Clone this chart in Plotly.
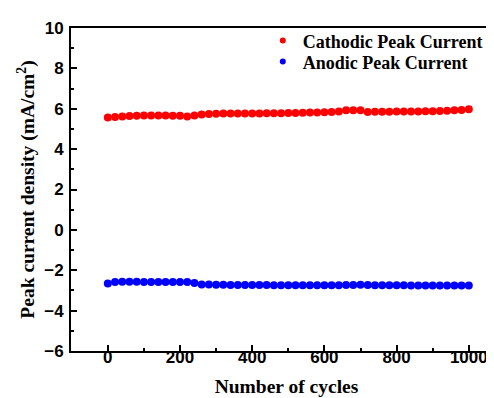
import plotly.graph_objects as go

cycles = [0, 20, 40, 60, 80, 100, 120, 140, 160, 180, 200, 220, 240, 260, 280, 300, 320, 340, 360, 380,
          400, 420, 440, 460, 480, 500, 520, 540, 560, 580, 600, 620, 640, 660, 680, 700, 720, 740, 760, 780,
          800, 820, 840, 860, 880, 900, 920, 940, 960, 980, 1000]
cathodic = [5.57, 5.59, 5.62, 5.64, 5.65, 5.66, 5.66, 5.66, 5.66, 5.65, 5.65, 5.62, 5.66, 5.72, 5.74, 5.75,
            5.76, 5.76, 5.76, 5.77, 5.77, 5.77, 5.78, 5.78, 5.78, 5.79, 5.79, 5.80, 5.81, 5.82, 5.83, 5.84,
            5.86, 5.92, 5.93, 5.92, 5.84, 5.85, 5.85, 5.85, 5.86, 5.86, 5.86, 5.86, 5.87, 5.88, 5.89, 5.90,
            5.92, 5.94, 5.97]
anodic = [-2.66, -2.58, -2.57, -2.57, -2.57, -2.58, -2.58, -2.58, -2.58, -2.58, -2.58, -2.58, -2.63, -2.70,
          -2.71, -2.72, -2.72, -2.73, -2.73, -2.73, -2.73, -2.73, -2.73, -2.74, -2.74, -2.74, -2.74, -2.74,
          -2.74, -2.74, -2.74, -2.74, -2.74, -2.73, -2.73, -2.72, -2.73, -2.74, -2.74, -2.74, -2.74, -2.74,
          -2.75, -2.75, -2.75, -2.75, -2.75, -2.75, -2.76, -2.76, -2.76]
series_names = ["Cathodic Peak Current", "Anodic Peak Current"]
series_colors = ["#ff0000", "#0000ff"]

serif = dict(family="Liberation Serif, Times New Roman, serif", size=19.5, color="black", weight="bold")
sans = dict(family="Liberation Sans, Arial, sans-serif", size=17, color="black", weight="bold")
legfont = dict(family="Liberation Serif, Times New Roman, serif", size=18, color="black", weight="bold")

fig = go.Figure()
for vals, name, col in zip([cathodic, anodic], series_names, series_colors):
    fig.add_trace(go.Scatter(x=cycles, y=vals, mode="markers", name=name,
                             marker=dict(color=col, size=8), showlegend=False))
# legend-only entries with smaller symbols, as in the reference
for i, (name, col) in enumerate(zip(series_names, series_colors)):
    fig.add_trace(go.Scatter(x=[None], y=[None], mode="markers", name=name,
                             marker=dict(color=col, size=6),
                             legend="legend" if i == 0 else "legend2"))

fig.update_layout(
    width=494, height=398,
    margin=dict(l=63, r=0, t=20, b=55),
    plot_bgcolor="white", paper_bgcolor="white",
    showlegend=True,
    legend=dict(x=0.445, y=0.96, xanchor="left", yanchor="middle", bgcolor="rgba(0,0,0,0)",
                font=legfont, itemsizing="trace"),
    legend2=dict(x=0.445, y=0.895, xanchor="left", yanchor="middle", bgcolor="rgba(0,0,0,0)",
                 font=legfont, itemsizing="trace"),
    xaxis=dict(range=[-102, 1092], tickvals=[0, 200, 400, 600, 800, 1000], ticks="inside", ticklen=6,
               tickwidth=2, tickcolor="black", showline=True, linecolor="black", linewidth=2, mirror=True,
               showgrid=False, zeroline=False, tickfont=sans, ticklabelstandoff=-10,
               minor=dict(tickvals=[100, 300, 500, 700, 900], ticks="inside", ticklen=3, tickwidth=2, tickcolor="black"),
               title=dict(text="Number of cycles", font=serif, standoff=13)),
    yaxis=dict(range=[-6, 10], dtick=2, ticks="inside", ticklen=6, tickwidth=2, tickcolor="black",
               showline=True, linecolor="black", linewidth=2, mirror=False,
               showgrid=False, zeroline=False, tickfont=sans, ticklabelstandoff=2,
               minor=dict(dtick=1, ticks="inside", ticklen=3, tickwidth=2, tickcolor="black"),
               title=dict(text="Peak current density (mA/cm<sup>2</sup>)", font=serif, standoff=4)),
)

fig.write_html("out.html")
